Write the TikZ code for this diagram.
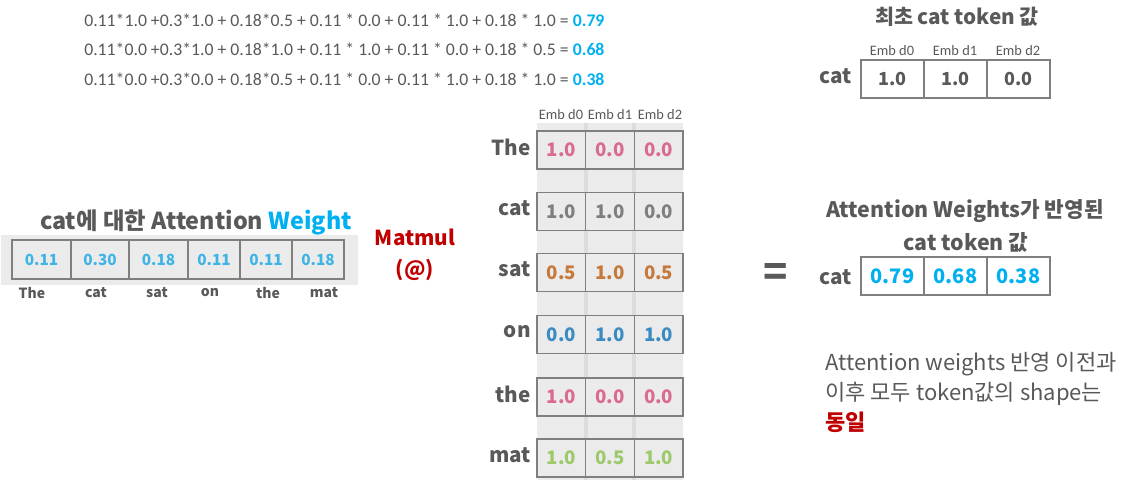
\documentclass[tikz,border=0pt]{standalone}
\usepackage{fontspec}
\setmainfont{Noto Sans CJK KR}
\newfontfamily\calfont{Carlito}
\definecolor{txtgray}{HTML}{595959}
\definecolor{valgray}{HTML}{7F7F7F}
\definecolor{boxgray}{HTML}{7F7F7F}
\definecolor{cellbg}{HTML}{EBEBEB}
\definecolor{stripe}{HTML}{DCDCDC}
\definecolor{vpink}{HTML}{DB6B8E}
\definecolor{vorange}{HTML}{C5793A}
\definecolor{vblue}{HTML}{3A8BC4}
\definecolor{vgreen}{HTML}{9DC96B}
\definecolor{vcyan}{HTML}{00B0F0}
\definecolor{vlblue}{HTML}{3DB4E5}
\definecolor{dred}{HTML}{C00000}
\tikzset{
  lbl/.style={inner sep=0pt, text=txtgray, font=\bfseries\fontsize{15.5}{17}\selectfont},
  mcell/.style={draw=boxgray, fill=cellbg, line width=1.1pt, inner sep=0pt,
    minimum width=36.5pt, minimum height=28.5pt, font=\bfseries\fontsize{14}{16}\selectfont},
  acell/.style={draw=boxgray, fill=cellbg, line width=1.1pt, inner sep=0pt,
    minimum height=29.25pt, text=vlblue, font=\bfseries\fontsize{11.5}{13}\selectfont},
  rcell/.style={draw=boxgray, fill=white, line width=1.4pt, inner sep=0pt,
    minimum width=47.25pt, minimum height=28.5pt, font=\bfseries\fontsize{13.5}{15}\selectfont},
  emb/.style={inner sep=0pt, text=txtgray, font=\calfont\fontsize{10.8}{13}\selectfont},
  formula/.style={inner sep=0pt, anchor=west, text=txtgray, font=\calfont\fontsize{13.3}{15}\selectfont},
  wlbl/.style={inner sep=0pt, text=txtgray, font=\bfseries\fontsize{10.5}{12}\selectfont},
  mmlbl/.style={inner sep=0pt, text=dred, font=\bfseries\fontsize{15.5}{17}\selectfont},
}
\begin{document}
\begin{tikzpicture}[x=0.75pt,y=-0.75pt]
\useasboundingbox (0,0) rectangle (1124,492);
% formulas
\node[formula] (f1) at (84,20) {0.11*1.0 +0.3*1.0 + 0.18*0.5 + 0.11 * 0.0 + 0.11 * 1.0 + 0.18 * 1.0 = \textbf{\textcolor{vcyan}{0.79}}};
\node[formula] (f2) at (84,49) {0.11*0.0 +0.3*1.0 + 0.18*1.0 + 0.11 * 1.0 + 0.11 * 0.0 + 0.18 * 0.5 = \textbf{\textcolor{vcyan}{0.68}}};
\node[formula] (f3) at (84,79) {0.11*0.0 +0.3*0.0 + 0.18*0.5 + 0.11 * 0.0 + 0.11 * 1.0 + 0.18 * 1.0 = \textbf{\textcolor{vcyan}{0.38}}};

% left attention weights
\node[lbl, font=\bfseries\fontsize{17.5}{20}\selectfont] (atitle) at (196,222) {cat에 대한 Attention \textcolor{vcyan}{Weight}};
\fill[cellbg] (1,235) rectangle (358,285);
\node[acell, minimum width=44.25pt] (a0) at (41.5,259.5) {0.11};
\node[acell, minimum width=43.5pt] (a1) at (100,259.5) {0.30};
\node[acell, minimum width=44.25pt] (a2) at (158.5,259.5) {0.18};
\node[acell, minimum width=39pt] (a3) at (214,259.5) {0.11};
\node[acell, minimum width=39pt] (a4) at (266,259.5) {0.11};
\node[acell, minimum width=39pt] (a5) at (318,259.5) {0.18};
\node[wlbl] (w0) at (32,293) {The};
\node[wlbl] (w1) at (96,293) {cat};
\node[wlbl] (w2) at (157,293) {sat};
\node[wlbl] (w3) at (210,293) {on};
\node[wlbl] (w4) at (268,293) {the};
\node[wlbl] (w5) at (324,293) {mat};

% matmul
\node[mmlbl] (mm1) at (415,237) {Matmul};
\node[mmlbl] (mm2) at (415,270) {(@)};

% middle matrix background
\fill[cellbg] (537,123) rectangle (683,480);
\fill[stripe] (584,123) rectangle (588,480);
\fill[stripe] (632,123) rectangle (636,480);
\node[emb] (e0) at (561,115) {Emb d0};
\node[emb] (e1) at (610,115) {Emb d1};
\node[emb] (e2) at (660,115) {Emb d2};

\foreach \r/\name/\y/\c/\va/\vb/\vc in {
  0/The/150/vpink/1.0/0.0/0.0,
  1/cat/211.5/valgray/1.0/1.0/0.0,
  2/sat/272.5/vorange/0.5/1.0/0.5,
  3/on/334.5/vblue/0.0/1.0/1.0,
  4/the/397/vpink/1.0/0.0/0.0,
  5/mat/458/vgreen/1.0/0.5/1.0}{
  \node[lbl, anchor=east] (rl\r) at (531,\y-3) {\name};
  \node[mcell, text=\c] (m\r a) at (561.3,\y) {\va};
  \node[mcell, text=\c] (m\r b) at (610,\y) {\vb};
  \node[mcell, text=\c] (m\r c) at (658.7,\y) {\vc};
}

% equals
\node[inner sep=0pt, text=txtgray, font=\bfseries\fontsize{30}{32}\selectfont] (eq) at (776,275) {=};

% top right
\node[lbl] (t1) at (957,17) {최초 cat token 값};
\node[emb] (te0) at (892,51) {Emb d0};
\node[emb] (te1) at (955,51) {Emb d1};
\node[emb] (te2) at (1018,51) {Emb d2};
\node[lbl, anchor=east] (tc) at (852,76) {cat};
\node[rcell, text=txtgray] (c0) at (892.5,79) {1.0};
\node[rcell, text=txtgray] (c1) at (955.5,79) {1.0};
\node[rcell, text=txtgray] (c2) at (1018.5,79) {0.0};

\node[lbl, font=\bfseries\fontsize{16}{18}\selectfont] (t2) at (965,211) {Attention Weights가 반영된};
\node[lbl, font=\bfseries\fontsize{16}{18}\selectfont] (t3) at (966,242) {cat token 값};
\node[lbl, anchor=east] (rc) at (852,277) {cat};
\node[rcell, text=vcyan, font=\bfseries\fontsize{15}{17}\selectfont] (r0) at (892.5,276) {0.79};
\node[rcell, text=vcyan, font=\bfseries\fontsize{15}{17}\selectfont] (r1) at (955.5,276) {0.68};
\node[rcell, text=vcyan, font=\bfseries\fontsize{15}{17}\selectfont] (r2) at (1018.5,276) {0.38};

% note
\node[inner sep=0pt, anchor=north west, align=left, text=txtgray, font=\fontsize{16.5}{22.5}\selectfont] (note) at (825,352)
  {Attention weights 반영 이전과\\이후 모두 token값의 shape는\\\textcolor{dred}{\bfseries 동일}};
\end{tikzpicture}
\end{document}
